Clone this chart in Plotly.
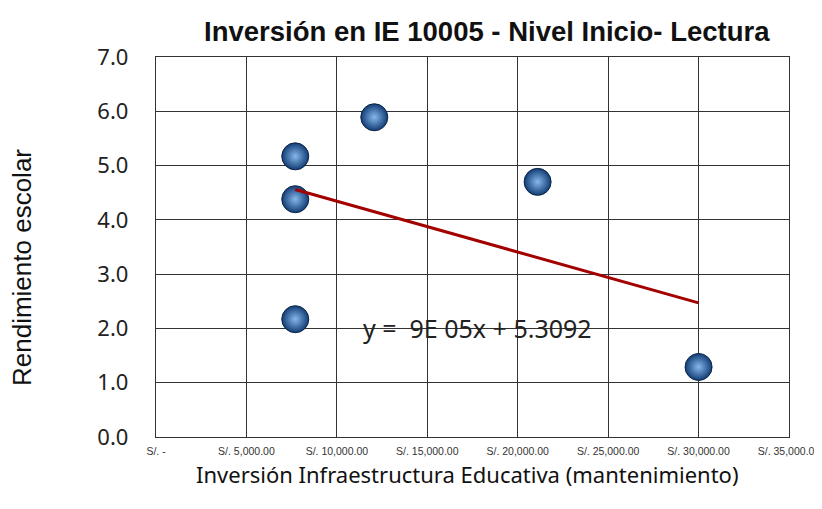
import numpy as np
import plotly.graph_objects as go

# Data
inversion = [7700, 7700, 7700, 12070, 21100, 30000]
rendimiento = [5.17, 4.38, 2.17, 5.89, 4.70, 1.29]

x_tickvals = [0, 5000, 10000, 15000, 20000, 25000, 30000, 35000]
x_ticktext = ["S/. -", "S/. 5,000.00", "S/. 10,000.00", "S/. 15,000.00",
              "S/. 20,000.00", "S/. 25,000.00", "S/. 30,000.00", "S/. 35,000.00"]
y_tickvals = [0, 1, 2, 3, 4, 5, 6, 7]
y_ticktext = ["0.0", "1.0", "2.0", "3.0", "4.0", "5.0", "6.0", "7.0"]

title_text = "<b>Inversión en IE 10005 - Nivel Inicio- Lectura</b>"
x_title = "Inversión Infraestructura Educativa (mantenimiento)"
y_title = "Rendimiento escolar"
eq_text = "y =  9E 05x + 5.3092"

# linear trend
m, b = np.polyfit(inversion, rendimiento, 1)
tx = [min(inversion), max(inversion)]
ty = [m * v + b for v in tx]

# page offset (browser body margin) and plot area in page pixels
OFF = 8
PL, PR, PT, PB = 156, 789, 57, 437


def px_to_paper(px, py):
    return (px - PL) / (PR - PL), (PB - py) / (PB - PT)


fig = go.Figure()
fig.add_trace(go.Scatter(
    x=inversion, y=rendimiento, mode="markers",
    marker=dict(size=27, color="#123d74",
                gradient=dict(type="radial", color="#86b8ec"),
                line=dict(color="#0a2447", width=1)),
    showlegend=False))
fig.add_trace(go.Scatter(
    x=tx, y=ty, mode="lines",
    line=dict(color="#a30000", width=3),
    hoverinfo="skip", showlegend=False))

fig.add_annotation(x=17750, y=2.0, xref="x", yref="y", text=eq_text,
                   showarrow=False,
                   font=dict(family="Noto Sans, Open Sans, sans-serif", size=25, color="#222"))

tx_, ty_ = px_to_paper(487, 32)
fig.add_annotation(x=tx_, y=ty_, xref="paper", yref="paper",
                   text=title_text, showarrow=False, xanchor="center", yanchor="middle",
                   font=dict(family="Liberation Sans Narrow, Liberation Sans, sans-serif",
                             size=27.5, color="#111"))
ax_, ay_ = px_to_paper(467, 474)
fig.add_annotation(x=ax_, y=ay_, xref="paper", yref="paper",
                   text=x_title, showarrow=False, xanchor="center", yanchor="middle",
                   font=dict(family="Noto Sans, Open Sans, sans-serif", size=22, color="#111"))
bx_, by_ = px_to_paper(22, 268)
fig.add_annotation(x=bx_, y=by_, xref="paper", yref="paper",
                   text=y_title, showarrow=False, textangle=-90,
                   xanchor="center", yanchor="middle",
                   font=dict(family="Liberation Sans, Arial, sans-serif", size=26, color="#111"))

fig.update_layout(
    width=822 - OFF, height=509 - OFF,
    paper_bgcolor="white", plot_bgcolor="white",
    margin=dict(l=PL - OFF, r=822 - PR, t=PT - OFF, b=509 - PB),
    xaxis=dict(range=[0, 35000], tickvals=x_tickvals, ticktext=x_ticktext,
               automargin=False,
               showgrid=True, gridcolor="#333", gridwidth=1.3,
               showline=True, linecolor="#333", linewidth=1.3, mirror=True,
               zeroline=False, ticks="outside", ticklen=4, tickcolor="rgba(0,0,0,0)",
               tickfont=dict(family="Liberation Sans Narrow, Liberation Sans, sans-serif",
                             size=10.5, color="#333")),
    yaxis=dict(range=[0, 7], tickvals=y_tickvals, ticktext=y_ticktext,
               automargin=False,
               showgrid=True, gridcolor="#333", gridwidth=1.3,
               showline=True, linecolor="#333", linewidth=1.3, mirror=True,
               zeroline=False, ticks="outside", ticklen=22, tickcolor="rgba(0,0,0,0)",
               tickfont=dict(family="Noto Sans, Open Sans, sans-serif", size=22, color="#222")),
)

fig.write_html("out.html")
